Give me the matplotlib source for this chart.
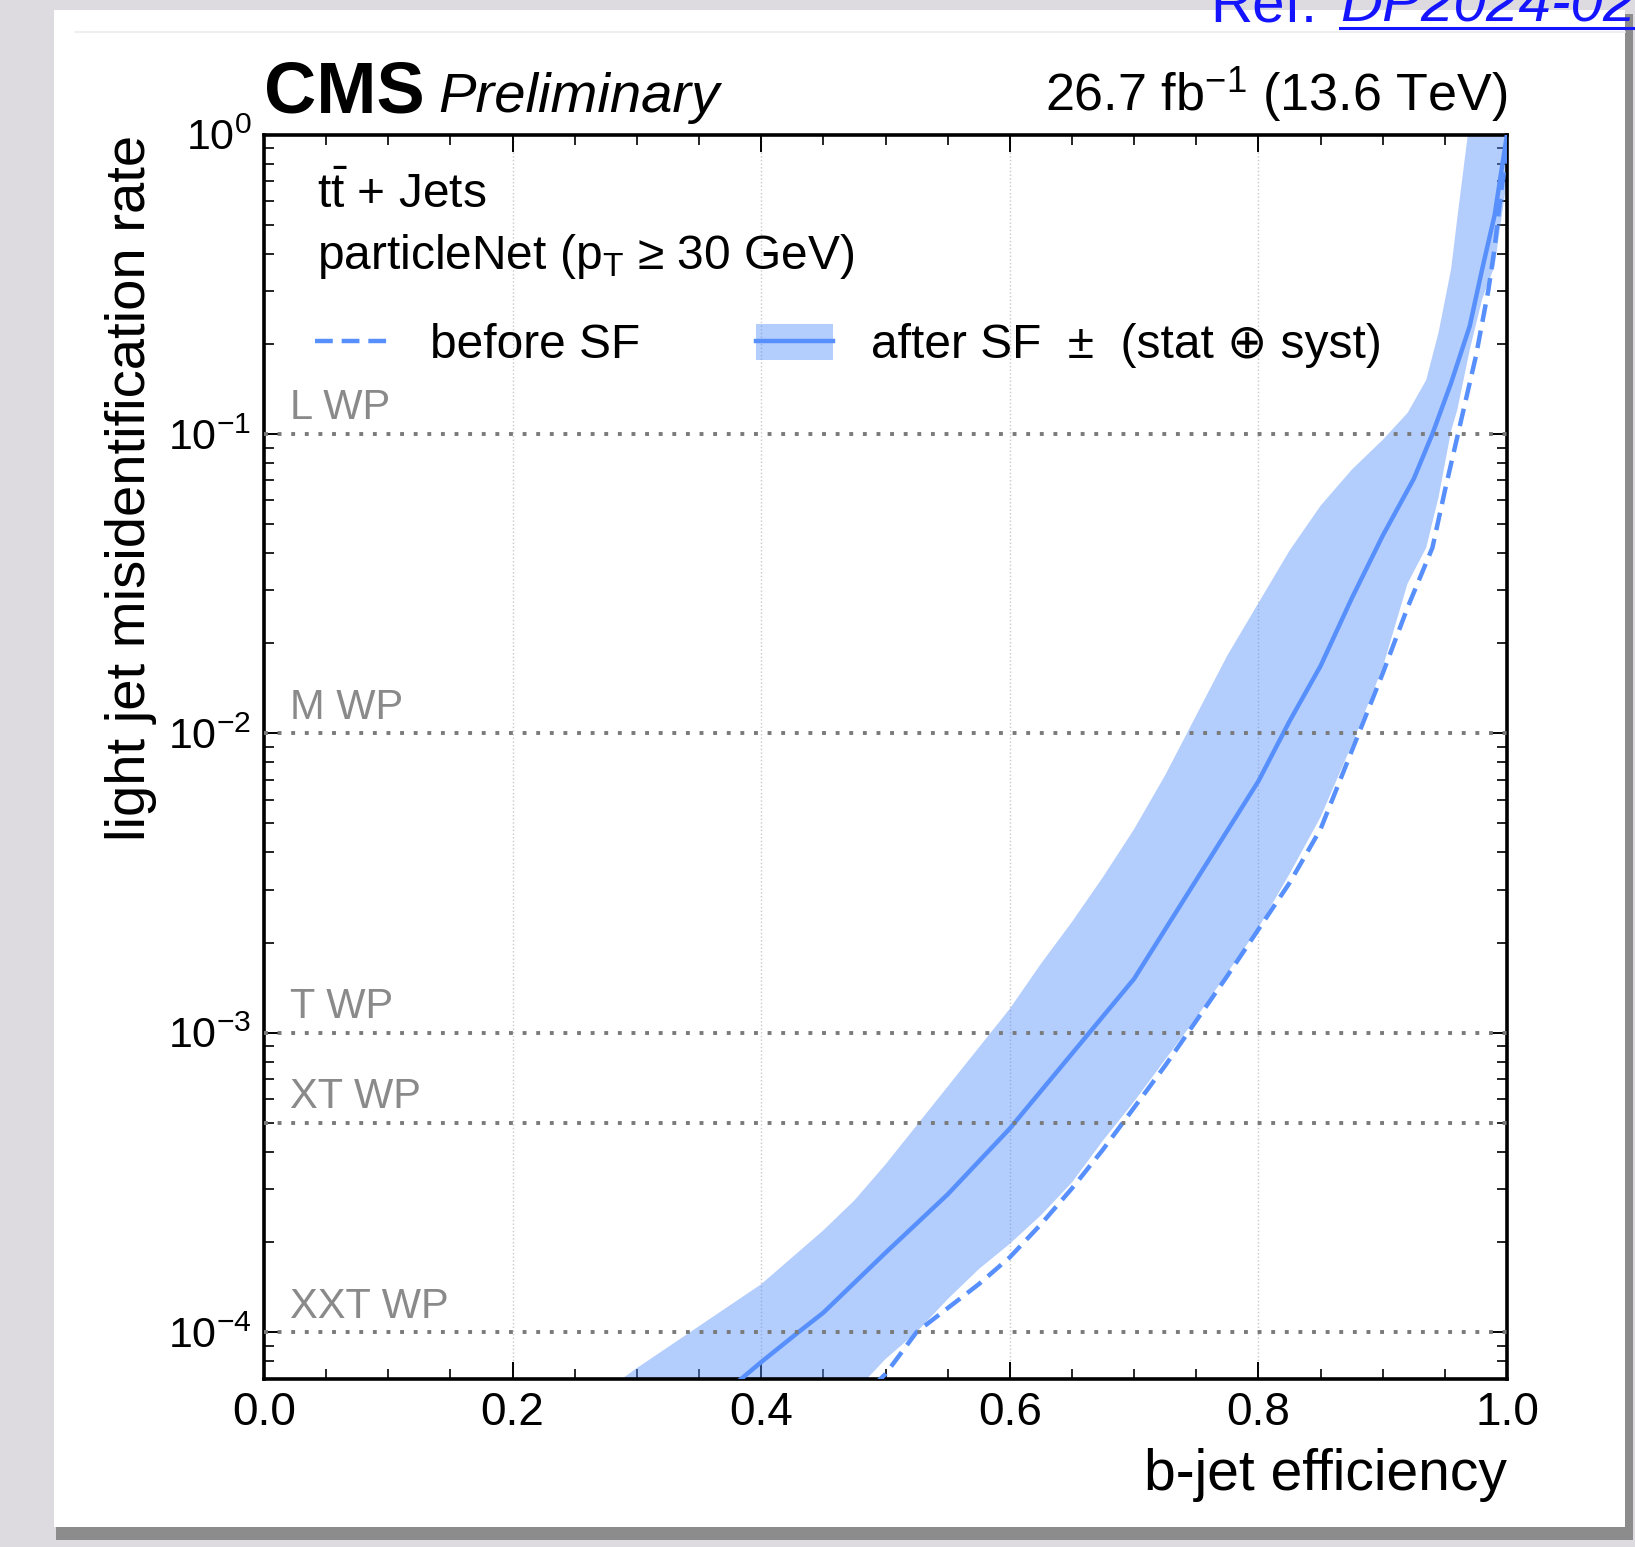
import numpy as np
import matplotlib
matplotlib.use("Agg")
import matplotlib.pyplot as plt
from matplotlib.lines import Line2D
from matplotlib.patches import Patch, Rectangle
from matplotlib.ticker import LogLocator, MultipleLocator, NullFormatter

plt.rcParams.update({
    "font.family": ["Liberation Sans", "DejaVu Sans"],
    "mathtext.fontset": "custom",
    "mathtext.rm": "Liberation Sans",
    "mathtext.it": "Liberation Sans:italic",
    "mathtext.bf": "Liberation Sans:bold",
    "mathtext.default": "regular",
})

# -----------------------------
# Data (y as log10 of the mistag rate)
# -----------------------------
band_eff = [0.28, 0.30, 0.35, 0.40, 0.45, 0.475, 0.50, 0.525, 0.55, 0.575,
            0.60, 0.625, 0.65, 0.675, 0.70, 0.725, 0.75, 0.775, 0.80, 0.825,
            0.85, 0.875, 0.90, 0.92, 0.935, 0.945, 0.955, 0.96, 0.97, 0.98,
            0.99, 1.0]
band_hi_log = [-4.18, -4.12, -3.98, -3.84, -3.66, -3.56, -3.44, -3.31, -3.18, -3.05,
               -2.92, -2.77, -2.63, -2.48, -2.32, -2.14, -1.94, -1.74, -1.565, -1.39,
               -1.24, -1.12, -1.02, -0.93, -0.82, -0.66, -0.45, -0.28, 0.05, 0.2,
               0.3, 0.4]
band_lo_log = [-4.9, -4.85, -4.7, -4.55, -4.32, -4.2, -4.09, -4.0, -3.89, -3.79,
               -3.705, -3.61, -3.50, -3.36, -3.23, -3.09, -2.95, -2.80, -2.65, -2.47,
               -2.28, -2.04, -1.78, -1.50, -1.38, -1.21, -0.99, -0.92, -0.72, -0.55,
               -0.44, -0.15]

after_eff = [0.38, 0.40, 0.43, 0.45, 0.50, 0.55, 0.60, 0.625, 0.65, 0.675,
             0.70, 0.75, 0.80, 0.825, 0.85, 0.875, 0.90, 0.925, 0.94, 0.955,
             0.97, 0.98, 0.99, 1.0]
after_log = [-4.17, -4.10, -4.0, -3.935, -3.735, -3.54, -3.32, -3.195, -3.07, -2.945,
             -2.82, -2.49, -2.16, -1.96, -1.775, -1.55, -1.34, -1.15, -1.0, -0.83,
             -0.64, -0.45, -0.27, 0.0]

before_eff = [0.49, 0.50, 0.525, 0.55, 0.575, 0.60, 0.625, 0.65, 0.675, 0.70,
              0.725, 0.75, 0.775, 0.80, 0.825, 0.85, 0.875, 0.90, 0.92, 0.94,
              0.95, 0.96, 0.975, 0.985, 0.99, 0.995, 1.0]
before_log = [-4.18, -4.14, -4.0, -3.92, -3.84, -3.75, -3.64, -3.52, -3.39, -3.25,
              -3.11, -2.96, -2.81, -2.655, -2.50, -2.32, -2.06, -1.80, -1.58, -1.38,
              -1.19, -1.01, -0.74, -0.52, -0.38, -0.2, -0.05]

wp_names = ["L WP", "M WP", "T WP", "XT WP", "XXT WP"]
wp_rates = [1e-1, 1e-2, 1e-3, 5e-4, 1e-4]

# -----------------------------
# Style
# -----------------------------
BLUE = "#5790fc"
WPGRAY = "#7a7a7a"
WPTEXT = "#8a8a8a"
LINK = "#1414ff"

W, H = 1635, 1547
fig = plt.figure(figsize=(W / 100, H / 100), dpi=100, facecolor="#dddbe0")

# slide panel behind the plot
fig.add_artist(Rectangle((56 / W, 1 - 1540 / H), (1633 - 56) / W, (1540 - 14) / H,
                         transform=fig.transFigure, facecolor="#8c8c8c",
                         edgecolor="none", zorder=-3))
fig.add_artist(Rectangle((54 / W, 1 - 1527 / H), (1625 - 54) / W, (1527 - 10) / H,
                         transform=fig.transFigure, facecolor="white",
                         edgecolor="none", zorder=-2))
fig.add_artist(Line2D([75 / W, 1625 / W], [1 - 32 / H, 1 - 32 / H],
                      transform=fig.transFigure, color="#ececec", lw=1.2, zorder=-1))

ax = fig.add_axes([264 / W, 1 - 1378.5 / H, 1243 / W, 1244 / H])

ax.fill_between(band_eff, 10 ** np.array(band_lo_log), 10 ** np.array(band_hi_log),
                color=BLUE, alpha=0.45, lw=0, zorder=2)
ax.plot(after_eff, 10 ** np.array(after_log), color=BLUE, lw=3.2, zorder=3)
ax.plot(before_eff, 10 ** np.array(before_log), color=BLUE, lw=3.2,
        ls=(0, (4, 2)), zorder=3)

for name, rate in zip(wp_names, wp_rates):
    ax.axhline(rate, color=WPGRAY, lw=2.8, ls=(0, (1, 2.5)),
               dash_capstyle="butt", zorder=4)
    ax.annotate(name, xy=(0.021, rate), xycoords=("axes fraction", "data"),
                xytext=(0, 10.4), textcoords="offset points",
                va="baseline", ha="left", fontsize=30, color=WPTEXT)

ax.set_xlim(0, 1)
ax.set_yscale("log")
ax.set_ylim(7e-5, 1)

ax.xaxis.set_major_locator(MultipleLocator(0.2))
ax.xaxis.set_minor_locator(MultipleLocator(0.05))
ax.yaxis.set_major_locator(LogLocator(base=10, numticks=10))
ax.yaxis.set_minor_locator(LogLocator(base=10, subs=np.arange(2, 10), numticks=20))
ax.yaxis.set_minor_formatter(NullFormatter())
ax.grid(axis="x", which="major", ls=":", color="#c8c8c8", lw=1.0, zorder=1)

ax.tick_params(which="both", direction="in", top=True, right=True)
ax.tick_params(which="major", length=12, width=1.4, pad=9)
ax.tick_params(which="minor", length=7, width=1.2)
ax.tick_params(axis="x", which="major", labelsize=33)
ax.tick_params(axis="y", which="major", labelsize=31)
for sp in ax.spines.values():
    sp.set_linewidth(2.6)

ax.set_xlabel("b-jet efficiency", loc="right", fontsize=41, labelpad=9)
ax.set_ylabel("light jet misidentification rate", loc="top", fontsize=40.5, labelpad=8)

# header
ax.text(0.0, 1.018, "CMS", transform=ax.transAxes, fontsize=52,
        fontweight="bold", va="baseline", ha="left")
ax.text(0.14, 1.018, "Preliminary", transform=ax.transAxes, fontsize=40.5,
        style="italic", va="baseline", ha="left")
ax.text(1.0, 1.019, r"26.7 fb$^{-1}$ (13.6 TeV)", transform=ax.transAxes,
        fontsize=37.5, va="baseline", ha="right")

# process / tagger text
ax.text(0.0426, 0.941, r"$\mathrm{t\bar{t}}$ + Jets", transform=ax.transAxes,
        fontsize=34.5, va="baseline", ha="left")
ax.text(0.0426, 0.8915, r"particleNet (p$_\mathrm{T}$ ≥ 30 GeV)",
        transform=ax.transAxes, fontsize=34.5, va="baseline", ha="left")

handles = [
    Line2D([], [], color=BLUE, lw=3.2, ls=(0, (4, 2))),
    (Patch(facecolor=BLUE, alpha=0.45, lw=0), Line2D([], [], color=BLUE, lw=3.2)),
]
labels = ["before SF", "after SF  ±  (stat ⊕ syst)"]
ax.legend(handles, labels, loc="center left", bbox_to_anchor=(0.041, 0.830),
          ncol=2, frameon=False, fontsize=34.5, handlelength=1.6,
          handleheight=0.78, handletextpad=0.8, columnspacing=2.42,
          borderpad=0, borderaxespad=0)

# reference link at the top of the slide
fig.text(1210 / W, 1 - 22 / H, "Ref.", fontsize=42, color=LINK,
         va="baseline", ha="left")
fig.text(1340 / W, 1 - 22 / H, "DP2024-02", fontsize=42, color=LINK,
         style="italic", va="baseline", ha="left")
fig.add_artist(Line2D([1340 / W, 1.0], [1 - 28 / H, 1 - 28 / H],
                      transform=fig.transFigure, color=LINK, lw=2.2))

fig.savefig("out.png", dpi=100, facecolor=fig.get_facecolor())
